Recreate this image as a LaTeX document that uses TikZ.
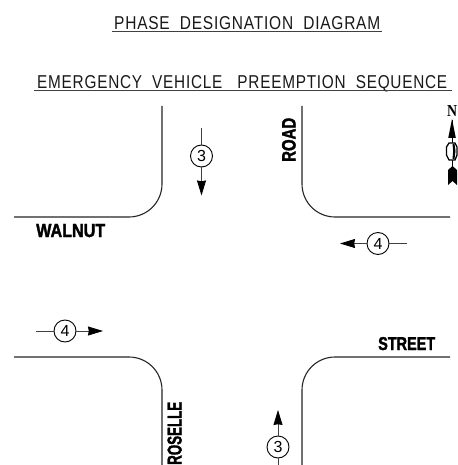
\documentclass[tikz,border=0pt]{standalone}
\usepackage{fontspec}
\setmainfont{Liberation Sans}
\newfontfamily\serifb{Liberation Serif}
\newfontfamily\headf[LetterSpace=5]{Liberation Sans}
\newfontfamily\heavy[FakeBold=2]{Liberation Sans Bold}
\usetikzlibrary{arrows.meta}
\tikzset{
  x=1pt,y=-1pt,
  road/.style={line width=1.1pt,color=black!85,rounded corners=33pt},
  rule/.style={line width=1.2pt,color=black!75},
  phase/.style={circle,draw=black,line width=0.9pt,fill=white,minimum size=22pt,inner sep=0pt,font=\fontsize{16}{16}\selectfont},
  flow/.style={line width=0.8pt,color=black!75,-{Stealth[length=15pt,width=9pt,inset=0.8pt,color=black]}},
  tail/.style={line width=0.8pt,color=black!75},
  lbl/.style={inner sep=0pt,anchor=base west,font=\heavy},
  head/.style={inner sep=0pt,anchor=base west,color=black!90,font=\headf}
}
\begin{document}
\begin{tikzpicture}
\useasboundingbox[fill=white] (0,0) rectangle (457,465);
% headings
\node[head] (t1) at (114,29.5) {\resizebox{266pt}{13pt}{PHASE\ \ DESIGNATION\ \ DIAGRAM}};
\node[head] (t2) at (37,88.5) {\resizebox{410pt}{13pt}{EMERGENCY\ \ VEHICLE\ \ \ PREEMPTION\ \ SEQUENCE}};
\draw[rule] (112,31.5) -- (382,31.5);
\draw[rule] (34,90.5) -- (452,90.5);
% road edges
\draw[road] (162,106) -- (162,217) -- (14,217);
\draw[road] (302,106) -- (302,217) -- (450,217);
\draw[road] (14,357) -- (162,357) -- (162,465);
\draw[road] (302,465) -- (302,357) -- (450,357);
% street names
\node[lbl] (walnut) at (36,237) {\resizebox{69pt}{13pt}{WALNUT}};
\node[lbl] (street) at (378,350) {\resizebox{57pt}{13pt}{STREET}};
\node[lbl,rotate=90] (road) at (295.5,162) {\resizebox{44pt}{13.5pt}{ROAD}};
\node[lbl,rotate=90] (roselle) at (181.5,465) {\resizebox{63pt}{14pt}{ROSELLE}};
% phases
\node[phase] (p3a) at (201.5,156) {3};
\coordinate (p3as) at (201.5,128);
\coordinate (p3ae) at (201.5,195.5);
\draw[tail] (p3as) -- (p3a);
\draw[flow] (p3a) -- (p3ae);
\node[phase] (p3b) at (278,447) {3};
\coordinate (p3bs) at (278,465);
\coordinate (p3be) at (278,410);
\draw[tail] (p3bs) -- (p3b);
\draw[flow] (p3b) -- (p3be);
\node[phase] (p4a) at (378,243.5) {4};
\coordinate (p4as) at (407,243.5);
\coordinate (p4ae) at (340,243.5);
\draw[tail] (p4as) -- (p4a);
\draw[flow] (p4a) -- (p4ae);
\node[phase] (p4b) at (65,331) {4};
\coordinate (p4bs) at (36,331);
\coordinate (p4be) at (103,331);
\draw[tail] (p4bs) -- (p4b);
\draw[flow] (p4b) -- (p4be);
% north arrow
\node[inner sep=0pt,anchor=base] (north) at (452,117) {\resizebox{10pt}{11pt}{\serifb\bfseries N}};
\draw[line width=1pt] (452,120) -- (452,168);
\fill (452,119) -- (455.8,138) -- (448.2,138) -- cycle;
\draw[line width=1.3pt,fill=white] (449,143) -- (455,143) -- (457,147) -- (457,155) -- (455,160) -- (449,160) -- (446.5,155) -- (446.5,147) -- cycle;
\fill (452.5,144) -- (454.5,144) -- (455.5,151) -- (454.5,159) -- (452.5,159) -- (453.2,151) -- cycle;
\fill (452.5,166) -- (457,170) -- (457,185) -- (452.5,181) -- (448,185) -- (448,170) -- cycle;
\end{tikzpicture}
\end{document}
